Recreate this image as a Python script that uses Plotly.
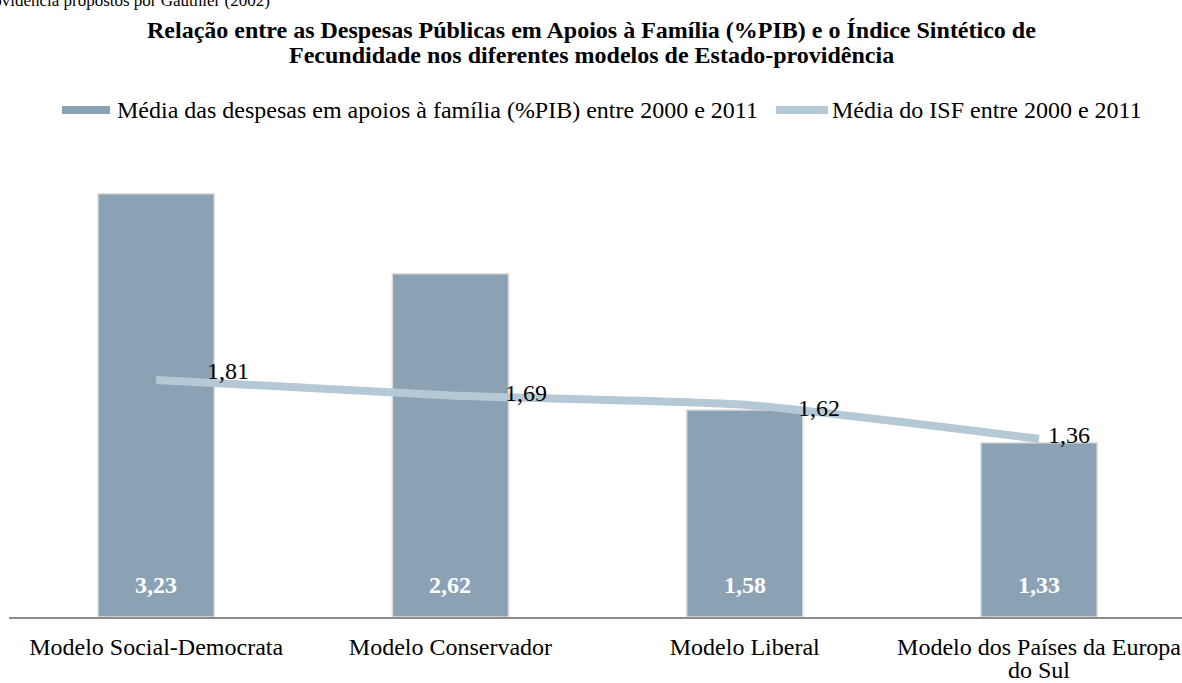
import plotly.graph_objects as go

categories = ["Modelo Social-Democrata", "Modelo Conservador", "Modelo Liberal",
              "Modelo dos Países da Europa<br>do Sul"]
despesas = [3.23, 2.62, 1.58, 1.33]
isf = [1.81, 1.69, 1.62, 1.36]
name_bar = "Média das despesas em apoios à família (%PIB) entre 2000 e 2011"
name_line = "Média do ISF entre 2000 e 2011"
title_lines = ["Relação entre as Despesas Públicas em Apoios à Família (%PIB) e o Índice Sintético de",
               "Fecundidade nos diferentes modelos de Estado-providência"]
top_text = "providência propostos por Gauthier (2002)"

BAR_COLOR = "#8ba2b5"
LINE_COLOR = "#b5c8d6"
FONT = "Liberation Serif, Times New Roman, serif"
FS = 24

W, H = 1182, 683
ML, MR, MT, MB = 9, 0, 159, 66
PW = W - ML - MR
PH = H - MT - MB


def px_x(p):
    return (p - ML) / PW


def px_y(p):
    return (H - MB - p) / PH


def fmt(v):
    return f"{v:.2f}".replace(".", ",")


xs = list(range(len(categories)))
first_lines = [c.split("<br>")[0] for c in categories]
extra_lines = [c.split("<br>")[1:] for c in categories]

fig = go.Figure()
fig.add_trace(go.Bar(
    x=xs, y=despesas, width=0.395, name=name_bar,
    marker=dict(color=BAR_COLOR, line=dict(color="#dcdcdc", width=1.5)),
    showlegend=False, hoverinfo="skip",
))
fig.add_trace(go.Scatter(
    x=xs, y=isf, mode="lines", name=name_line,
    line=dict(color=LINE_COLOR, width=8, shape="spline", smoothing=0.5),
    showlegend=False, hoverinfo="skip",
))

annotations = []
# bar value labels (bottom inside bars)
for x, v in zip(xs, despesas):
    annotations.append(dict(x=x, y=0, xref="x", yref="y", text=f"<b>{fmt(v)}</b>",
                            showarrow=False, yshift=32,
                            font=dict(family=FONT, size=FS, color="white")))
# line value labels
xshifts = [72, 76, 74, 30]
yshifts = [9, 3, -3, 4]
for x, v, dx, dy in zip(xs, isf, xshifts, yshifts):
    annotations.append(dict(x=x, y=v, xref="x", yref="y", text=fmt(v),
                            showarrow=False, xshift=dx, yshift=dy,
                            font=dict(family=FONT, size=FS, color="black")))
# wrapped continuation lines of category labels
for x, extras in zip(xs, extra_lines):
    for k, t in enumerate(extras):
        annotations.append(dict(x=x, y=0, xref="x", yref="y", text=t, showarrow=False,
                                yanchor="middle", yshift=-53 - 24 * k,
                                font=dict(family=FONT, size=FS, color="black")))
# title (two lines)
for line, ypix in zip(title_lines, [30, 55]):
    annotations.append(dict(x=px_x(591), y=px_y(ypix), xref="paper", yref="paper",
                            text=f"<b>{line}</b>", showarrow=False,
                            xanchor="center", yanchor="middle",
                            font=dict(family=FONT, size=FS, color="black")))
# cropped top text
annotations.append(dict(x=px_x(272), y=px_y(0), xref="paper", yref="paper",
                        text=top_text, showarrow=False,
                        xanchor="right", yanchor="middle",
                        font=dict(family=FONT, size=17, color="black")))
# legend texts
annotations.append(dict(x=px_x(115), y=px_y(110), xref="paper", yref="paper",
                        text=name_bar, showarrow=False, xanchor="left", yanchor="middle",
                        font=dict(family=FONT, size=FS, color="black")))
annotations.append(dict(x=px_x(830), y=px_y(110), xref="paper", yref="paper",
                        text=name_line, showarrow=False, xanchor="left", yanchor="middle",
                        font=dict(family=FONT, size=FS, color="black")))

shapes = [
    dict(type="rect", xref="paper", yref="paper",
         x0=px_x(62), x1=px_x(110), y0=px_y(106), y1=px_y(114),
         fillcolor=BAR_COLOR, line=dict(width=0)),
    dict(type="line", xref="paper", yref="paper",
         x0=px_x(776), x1=px_x(828), y0=px_y(110), y1=px_y(110),
         line=dict(color=LINE_COLOR, width=8)),
]

fig.update_layout(
    width=W, height=H,
    margin=dict(l=ML, r=MR, t=MT, b=MB, pad=0, autoexpand=False),
    paper_bgcolor="white", plot_bgcolor="white",
    font=dict(family=FONT, size=FS, color="black"),
    bargap=0.6,
    annotations=annotations, shapes=shapes,
    xaxis=dict(range=[-0.5, -0.5 + PW / 294.3], tickvals=xs, ticktext=first_lines,
               showgrid=False, zeroline=False, showline=True, linecolor="#8c8c8c",
               linewidth=1.5, ticks="", ticklabelstandoff=7, automargin=False,
               tickfont=dict(family=FONT, size=FS, color="black")),
    yaxis=dict(range=[0, PH / 131.0], visible=False, showgrid=False, zeroline=False,
               automargin=False),
    showlegend=False,
)

fig.write_html("out.html")
